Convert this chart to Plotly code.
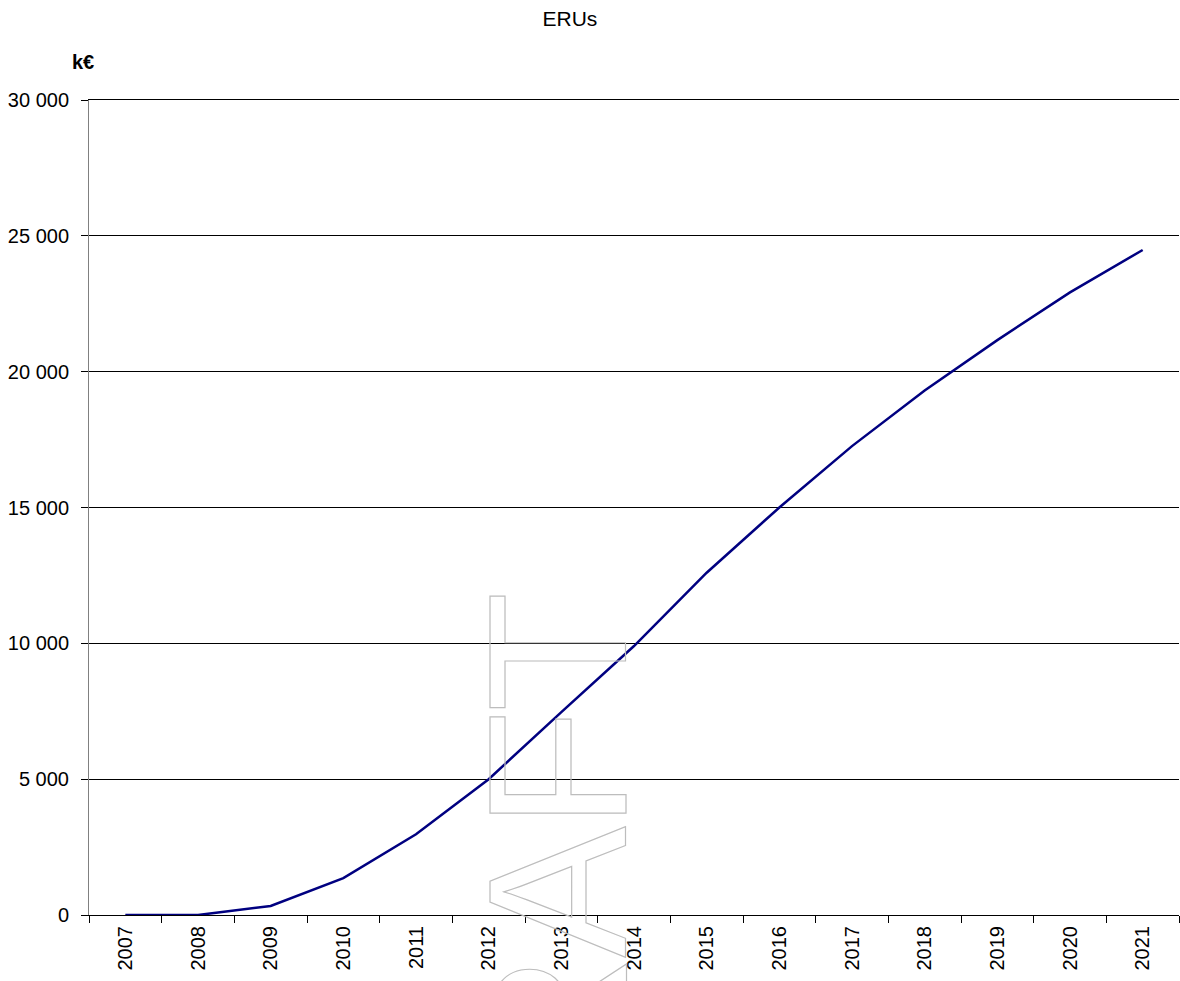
import plotly.graph_objects as go

# ERU revenue per year, in thousands of euros
years = ["2007", "2008", "2009", "2010", "2011", "2012", "2013", "2014",
         "2015", "2016", "2017", "2018", "2019", "2020", "2021"]
eru_keur = [0, 0, 330, 1360, 2970, 5000, 7470, 9900,
            12600, 15000, 17260, 19310, 21160, 22920, 24480]

y_ticks = [0, 5000, 10000, 15000, 20000, 25000, 30000]

FONT = "Liberation Sans, Arial, sans-serif"

fig = go.Figure()
fig.add_trace(go.Scatter(
    x=years, y=eru_keur, mode="lines",
    line=dict(color="#000080", width=2.5),
    showlegend=False, hoverinfo="x+y",
))

fig.update_layout(
    width=1180, height=981,
    margin=dict(l=89, r=1, t=100, b=66),
    paper_bgcolor="white", plot_bgcolor="rgba(0,0,0,0)",
    separators=". ",
    font=dict(family=FONT, size=20, color="black"),
    title=dict(text="ERUs", x=0.483, xanchor="center", y=0.981, yanchor="middle",
               font=dict(family=FONT, size=21, color="black")),
    showlegend=False,
)

fig.update_xaxes(
    type="category", range=[-0.5, len(years) - 0.5],
    tickson="boundaries", ticks="outside", ticklen=7, tickwidth=1, tickcolor="black",
    tickangle=-90, showline=True, mirror=True, linecolor="black", linewidth=1,
    showgrid=False, zeroline=False, ticklabelstandoff=2,
    tickfont=dict(family=FONT, size=20, color="black"),
)
fig.update_yaxes(
    range=[0, 30000], tickvals=y_ticks, tickformat=",d",
    ticks="outside", ticklen=7, tickwidth=1, tickcolor="black",
    showline=True, linecolor="#808080", linewidth=1,
    showgrid=True, gridcolor="black", gridwidth=1, zeroline=False,
    ticklabelstandoff=8,
    tickfont=dict(family=FONT, size=20, color="black"),
)

# unit label above the value axis
fig.add_annotation(
    text="<b>k€</b>", xref="paper", yref="paper", x=0.006, y=1.047,
    xanchor="right", yanchor="middle", showarrow=False,
    font=dict(family=FONT, size=20, color="black"),
)

# outlined "DRAFT" watermark
fig.add_annotation(
    text='<span style="fill:none;stroke:#bdbdbd;stroke-width:1.2px;letter-spacing:-3px">DRAFT</span>',
    xref="paper", yref="paper", x=0.431, y=-0.0005,
    xanchor="center", yanchor="middle", textangle=-90, showarrow=False,
    font=dict(family=FONT, size=197, color="#bdbdbd"),
)

fig.write_html("out.html")
